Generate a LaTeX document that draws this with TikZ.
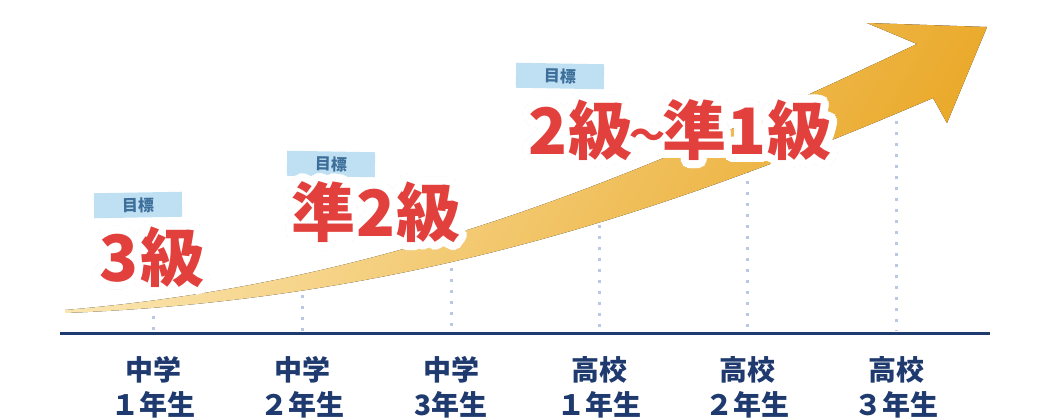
\documentclass[tikz,border=0pt]{standalone}
\usepackage{fontspec}
\setmainfont{Noto Sans CJK JP}
\newfontfamily\jp{Noto Sans CJK JP}
\usetikzlibrary{shadings}
\definecolor{navy}{HTML}{1F3A6E}
\definecolor{redt}{HTML}{E2403C}
\definecolor{tagbg}{HTML}{BFE0F3}
\definecolor{tagtx}{HTML}{3D6F9A}
\definecolor{dotc}{HTML}{B9C8E4}
\definecolor{arL}{HTML}{FBE7B4}
\definecolor{arR}{HTML}{EAA92A}
\tikzset{
  big/.style={font=\jp\bfseries\fontsize{64}{64}\selectfont, inner sep=0pt},
  tag/.style={fill=tagbg, minimum width=88pt, minimum height=25pt, font=\jp\bfseries\fontsize{16}{16}\selectfont, text=tagtx, inner sep=0pt},
  lab/.style={font=\jp\bfseries\fontsize{28}{35}\selectfont, text=navy, align=center, inner sep=0pt},
  dotl/.style={dotc, line width=3pt, dash pattern=on 3pt off 8pt}
}
\newcommand\bigtext[3]{%
  \begin{scope}[shift={(3pt,-5pt)}]
  \foreach \a in {0,45,...,315}{\node[big, text=black!12] at ([shift={(\a:8pt)}]#1) {#2};}
  \end{scope}
  \foreach \a in {0,15,...,345}{\node[big, text=white] at ([shift={(\a:8pt)}]#1) {#2};}
  \foreach \a in {0,30,...,330}{\node[big, text=white] at ([shift={(\a:4pt)}]#1) {#2};}
  \node[big, text=redt] (#3) at (#1) {#2};
}
\begin{document}
\begin{tikzpicture}[x=1pt,y=-1pt]
\useasboundingbox (0,0) rectangle (1050,420);
\foreach \x/\t [count=\i] in {153/305,302/295,451/268,599/225,747/170,896/110}{
  \coordinate (top\i) at (\x,\t);
  \coordinate (bot\i) at (\x,331);
  \draw[dotl] (top\i) -- (bot\i);
}
\fill[left color=arL, right color=arR, shading=axis, shading angle=60]
  (65,310) .. controls (400,282) and (650,170) .. (917,44)
  -- (867,23) -- (987,27) -- (947,123) -- (933,98)
  .. controls (660,215) and (400,300) .. (65,313) -- cycle;
\coordinate (axL) at (60,333);
\coordinate (axR) at (990,333);
\draw[navy, line width=3pt] (axL) -- (axR);
\foreach \x/\a/\b [count=\i] in {153/中学/１年生,302/中学/２年生,451/中学/3年生,599/高校/１年生,747/高校/２年生,896/高校/３年生}{
  \node[lab] (lab\i) at (\x,387) {\a\\\b};
}
\node[tag, rotate=1] (tag1) at (138,205) {目標};
\node[tag, rotate=-1] (tag2) at (331,164) {目標};
\node[tag, rotate=-1] (tag3) at (560,76) {目標};
\coordinate (p1) at (152,257);
\coordinate (p2) at (376,212);
\coordinate (p3) at (680,130);
\bigtext{p1}{3\kern2pt 級}{b1}
\bigtext{p2}{準\kern1pt 2\kern1pt 級}{b2}
\bigtext{p3}{2\kern1pt 級\kern-3pt\raisebox{6pt}{\fontsize{36}{36}\selectfont\char"301C}\kern-3pt 準\kern1pt 1\kern1pt 級}{b3}
\end{tikzpicture}
\end{document}
